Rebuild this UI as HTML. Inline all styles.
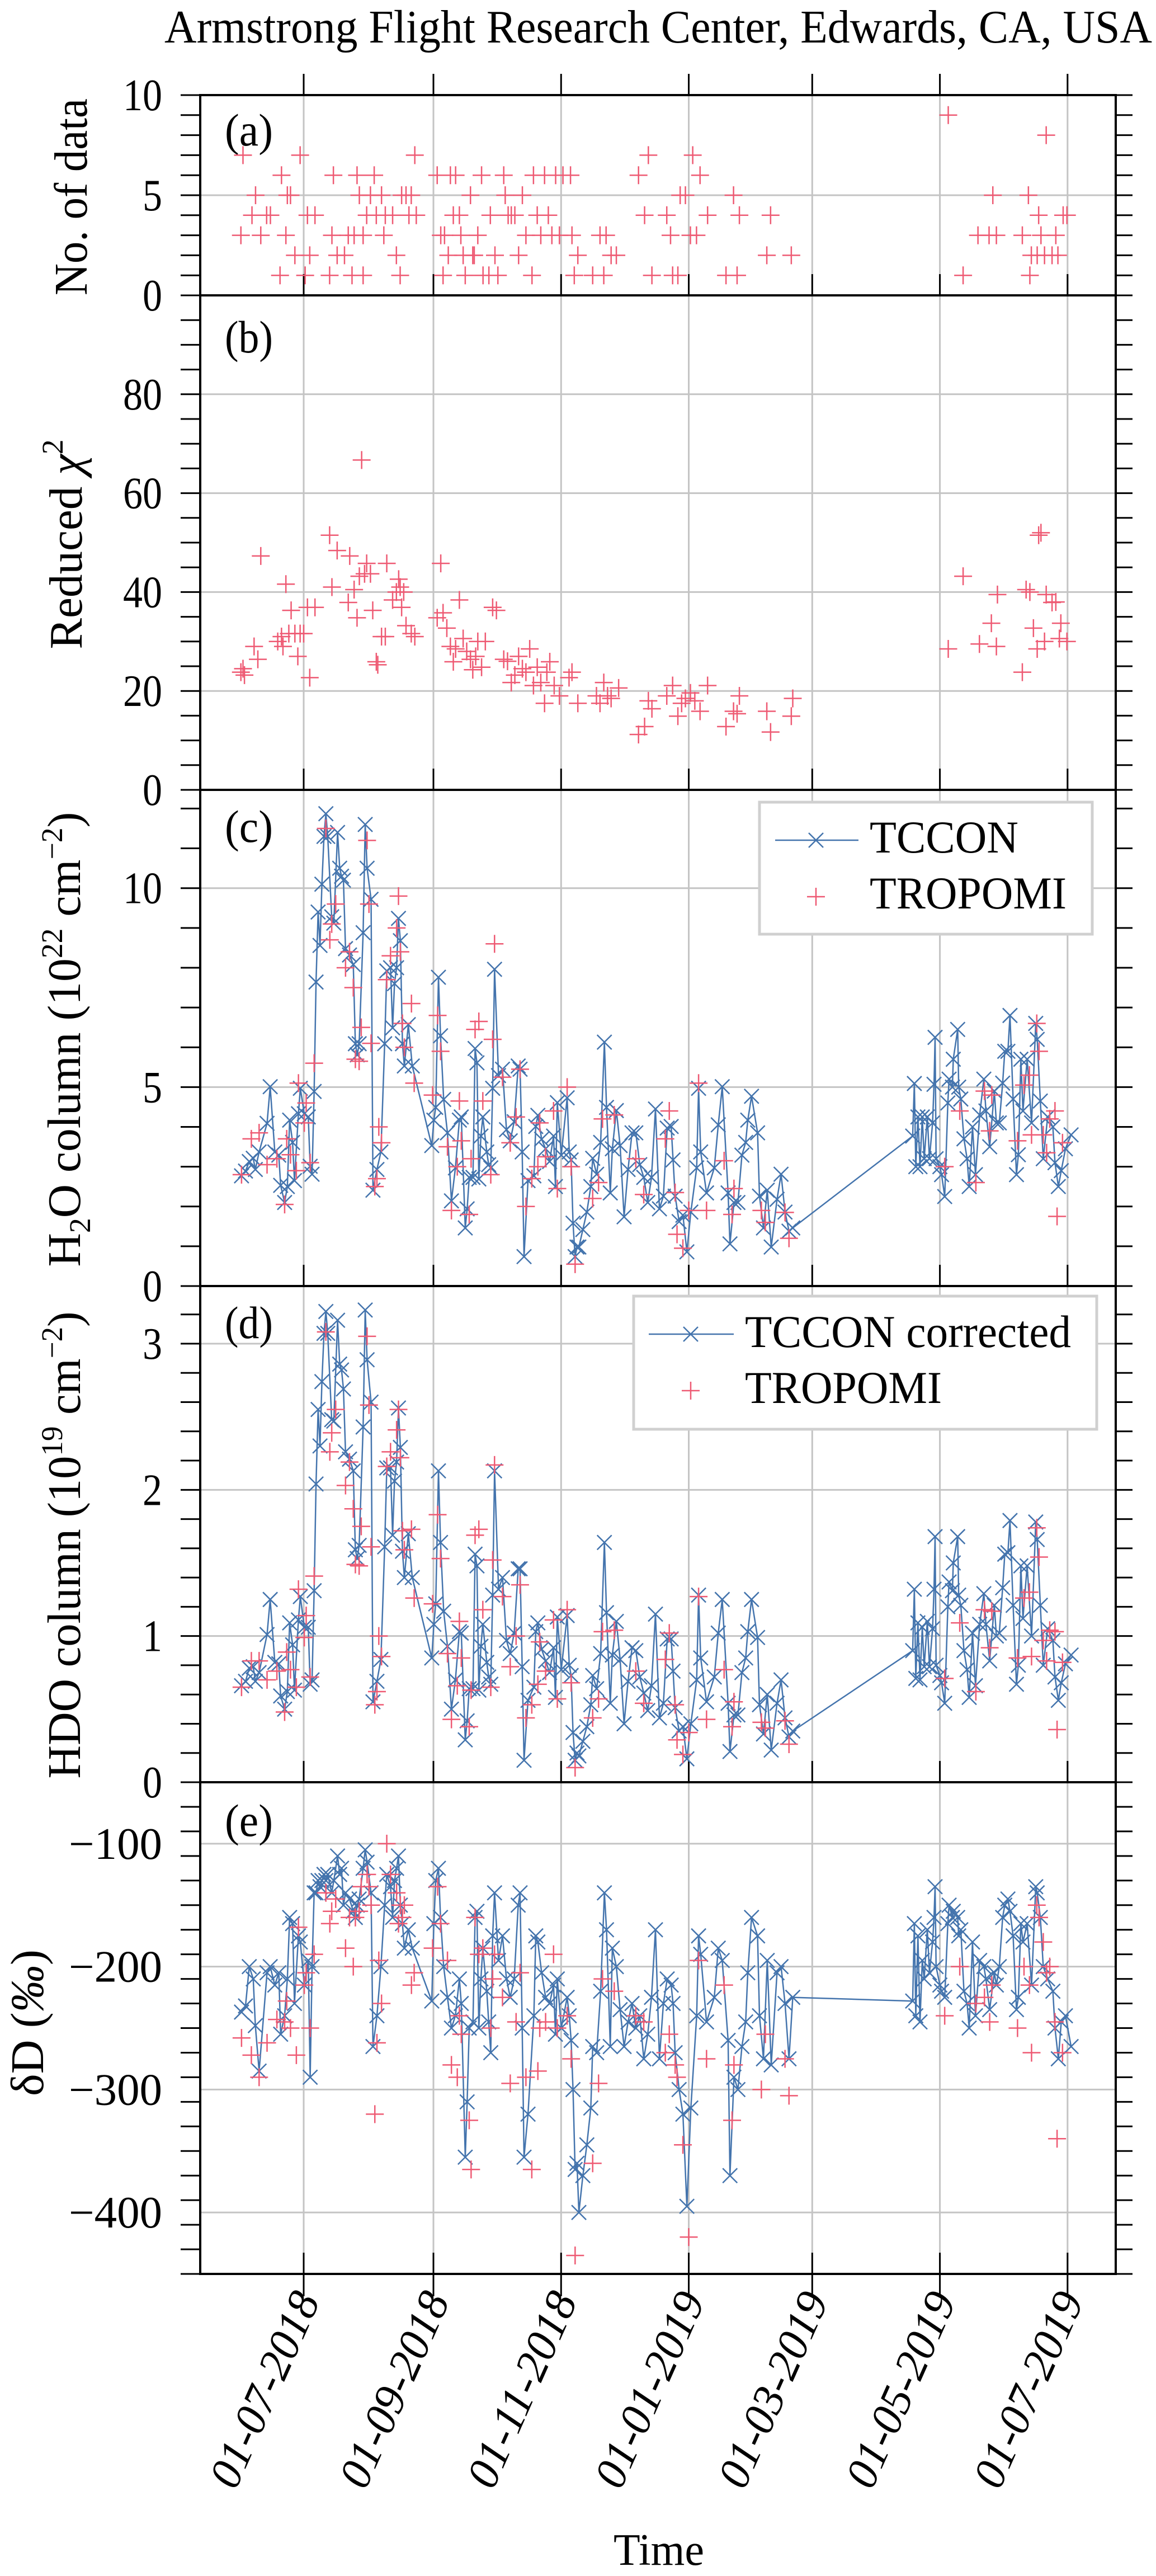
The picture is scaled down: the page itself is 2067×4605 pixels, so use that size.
<!DOCTYPE html>
<html><head><meta charset="utf-8"><title>Armstrong Flight Research Center water vapour comparison</title>
<style>
html,body{margin:0;padding:0;background:#fff;}
svg{display:block;}
text{font-family:"Liberation Serif",serif;fill:#000;}
</style></head>
<body>
<svg id="chart" xmlns="http://www.w3.org/2000/svg" width="2067" height="4605" viewBox="0 0 2067 4605"></svg>
<script>
// ---------- DATA ----------
// days since 2018-07-01
const xTickDays = [0, 62, 123, 184, 243, 304, 365];
const xTickLabels = ["01-07-2018","01-09-2018","01-11-2018","01-01-2019","01-03-2019","01-05-2019","01-07-2019"];

const aDays = [-30,-29,-23,-24.7,-20.5,-17.7,-15.9,-11.3,-10.6,-8.5,-7.8,-6.3,-4.2,-1.7,0.7,1.8,2.9,5.4,12.4,13.5,14.2,16,19.5,21.3,23.1,24.1,25.5,26.6,28.4,28.4,30.1,31.9,33.7,34.7,37.2,38.3,39,42.5,44.3,46.1,46.8,48.9,50.3,51.4,53.1,53.8,63.8,65.5,66.6,67.3,69.1,70.1,71.5,72.6,74.4,75.1,76.2,77.2,79.7,80.8,81.5,83.2,85,85.7,88.5,89.2,91.4,92.8,95.6,96.3,97.7,99.2,100.9,102.7,104.5,106.2,109.1,109.8,111.6,113.3,115.1,116.9,118.6,120.4,122.2,123.9,127.5,128.2,129.3,131,138.1,141.6,143.4,144.5,146.9,149.4,160,162.9,164.7,166.4,173.5,175.3,176.3,178.8,179.9,182.4,184.8,185.9,187.7,189.4,193,201.8,205.4,207.1,208.2,221.3,223.1,233,308,315.1,322.2,327.5,329.3,331,343.4,346.3,347,347.7,350.5,351.2,352.3,354,354.8,357.6,359.4,360.4,362.9,364.7];
const aCounts = [3,7,5,4,3,4,4,1,6,3,5,5,2,7,1,4,2,4,1,3,6,2,2,3,1,3,6,5,1,3,4,5,6,4,5,3,4,4,2,1,5,5,4,5,7,4,6,3,1,3,2,6,4,6,4,3,2,1,5,2,2,3,6,1,1,4,2,1,6,5,4,4,4,2,5,3,1,6,4,3,6,4,3,6,3,6,6,3,1,2,1,3,1,3,2,2,6,4,7,1,4,3,1,1,5,5,3,7,3,6,4,1,5,1,4,2,4,2,9,1,3,3,5,3,3,5,1,2,2,4,3,2,8,2,3,2,4,4];

const bDays = [-30,-29,-28.3,-23.7,-21.9,-20.5,-12.4,-10.6,-9.9,-8.5,-7.1,-6,-4.2,-2.8,-1.7,0,1.8,2.9,5.4,12.4,13.5,16,21.3,22,24.1,25.5,26.6,27.7,29.1,30.1,31.9,33,34.7,35.4,37.2,39,39.7,42.5,44.3,45.4,46.1,46.8,47.8,48.9,51.4,53.1,63.8,65.5,66.6,68.4,70.1,71.5,72.6,74.4,76.2,77.9,79.7,80.8,82.2,83.2,85,86.8,90.3,92.1,95.6,97.4,99.2,100.9,102.7,104.5,106.2,108,109.8,111.6,113.3,115.1,116.2,117.6,119.7,122.2,126.8,128.2,131,139.9,141.6,143.4,145.2,146.9,150.5,160,162.9,164.7,166.4,173.5,176.3,178.8,180.6,182.4,184.8,186.9,189.4,193,201.8,205.4,207.1,208.2,221.3,223.1,233,233.7,308,315.1,322.9,328.6,331,331.5,343.4,345.2,347,348.7,350.5,351.2,352.3,354,354.8,357.6,359.4,361.1,361.8,364.7];
const bChi = [23.8,24.5,23.2,29,26.4,47.3,30,31,29,41.6,31.6,36.3,31.6,27,31.6,31.6,36.9,22.7,36.9,51.5,41,48.4,37.9,47.3,40.5,34.8,43.2,66.7,43.7,45.8,43.7,36.3,25.9,25.3,31,31,45.8,38.4,40,42.6,41,36.9,40,33.2,31.6,31,34.8,45.8,35.8,32.7,29,25.9,28.5,38.4,30.6,28,26.4,24.3,27,30,24.8,30,36.9,36.3,26.4,26,21.7,23.2,27,24.5,23.8,28.5,21.1,24.8,21.7,17.5,23.8,25.9,21.1,19,22.7,23.8,17.5,19,17.5,21.7,19,18.5,20.6,11.2,12.8,18,16.4,19,21.1,14.9,17.5,18.5,19.6,18,15.9,21.1,12.8,15.9,15.4,19,15.9,11.7,14.9,18.5,28.5,43.2,29.5,33.7,29,39.5,23.8,40.5,40,32.7,28.5,51.5,52,30,39.5,37.9,38,30.6,33.7,30];

const tcDays = [-29.7,-27.8,-26,-24.1,-23.1,-21.3,-17.5,-16,-13.8,-11.9,-11,-9.1,-7.8,-6.7,-5.3,-4.4,-2.5,-1.6,0.3,2.2,3.1,4,5,5.9,6.9,7.8,8.7,9.7,10.6,11.5,13.4,14.4,16.2,17.2,18.1,19,20,21.9,23.7,24.7,25.6,26.5,28.4,29.4,30.3,32.2,33.1,35,36.9,38.7,39.7,41.5,42.5,43.4,44.4,45.3,46.2,47.2,48.1,50,51.9,61.2,62.2,63.1,64.4,65.4,66.9,68.7,70.6,72.5,74.4,75.3,77.2,78.1,79.1,80.9,81.9,82.8,83.7,84.7,85.6,87.5,88.4,89.4,90.3,91.2,93.1,95,96.9,98.7,100.6,102.5,103.4,104.4,105.3,107.2,110,110.9,111.9,113.7,115.6,117.5,119.4,120.3,121.2,123.1,125.9,126.9,127.8,128.7,129.7,130.6,131.5,133.4,135.3,137.2,138.1,140,141.9,143.7,144.7,146.5,147.5,149.4,151.2,153.1,155,156.9,158.7,160.6,162.5,164.4,166.2,168.1,170,171.9,173.7,175.6,176.5,177.5,179.4,181.2,183.1,185,187.8,188.7,189.7,192.5,196.2,198.1,200,202.8,203.7,205.6,207.5,209.4,211.2,212.2,214,216.9,217.8,219.7,221.5,223.4,226.2,228.1,230,231.9,233.7,291,291.8,292.5,293.5,294.5,295.6,296.5,298,299,300.5,301.2,301.7,302.2,304,304.8,306.3,307.8,308.4,310,310.4,312.5,313,314,315.5,317,318,319.6,321,323,325,326,327.8,330,331,332.4,334,335,336.5,337.5,339,340.6,341.5,342.7,343.7,345.7,347.8,349.8,350.5,352,353.4,355.5,358,359,360.6,362,364,366.7];
const tcH2O = [2.77,2.89,3.13,3.21,2.93,3.37,4.09,5.01,3.37,3.29,2.53,2.1,2.5,4.17,3.61,2.65,4.33,4.97,4.33,4.25,3.01,2.81,4.89,7.64,9.4,8.56,10.1,11.3,11.87,11.3,9.28,9.12,11.4,10.5,10.3,10.2,8.48,8.32,8.08,6.09,5.81,6.09,8.88,11.6,10.5,9.72,2.41,2.93,3.37,6.09,7.92,8.0,6.49,7.6,8.0,9.24,8.68,6.09,5.53,6.57,5.53,3.53,4.17,4.49,7.76,6.29,4.69,3.85,2.14,2.97,4.17,4.25,1.46,1.94,2.73,2.73,5.97,5.61,2.69,3.77,4.25,3.37,3.05,2.97,4.97,7.96,5.29,5.45,3.93,3.65,4.13,5.53,5.45,3.37,0.74,2.65,2.77,4.01,4.29,3.69,3.45,3.13,3.77,2.5,4.61,3.29,4.73,3.37,3.17,1.58,0.74,0.98,0.98,1.42,1.86,2.5,3.21,2.81,3.61,6.13,4.49,2.34,3.45,4.41,3.53,1.74,2.93,3.85,3.85,3.05,2.73,2.1,2.73,4.45,1.94,2.26,3.97,4.01,3.17,2.26,1.62,1.78,0.86,1.86,2.97,4.97,3.37,2.34,2.97,4.05,5.01,2.34,1.06,2.1,2.1,3.29,3.61,4.17,4.77,3.85,2.26,1.46,2.41,0.98,2.18,2.81,1.86,1.38,1.46,3.77,5.09,3.0,4.25,3.0,4.25,3.2,4.25,3.2,4.1,5.07,6.25,3.2,3.0,2.8,2.25,4.6,5.2,5.0,5.7,6.45,5.0,4.7,3.7,3.2,2.5,4.0,2.8,4.3,5.2,4.4,3.5,4.9,4.1,4.1,5.1,5.9,5.9,6.8,4.7,2.8,3.3,5.7,4.4,5.7,4.1,6.6,6.2,4.65,3.2,4.25,4.0,3.1,2.5,2.9,3.45,3.8];
const tcHDO = [0.66,0.69,0.78,0.79,0.69,0.75,1.01,1.25,0.82,0.81,0.59,0.50,0.62,1.09,0.94,0.63,1.11,1.27,1.06,1.06,0.67,0.70,1.31,2.04,2.55,2.30,2.74,3.07,3.22,3.07,2.48,2.47,3.16,2.86,2.82,2.69,2.26,2.21,2.13,1.59,1.53,1.62,2.43,3.23,2.89,2.60,0.55,0.69,0.84,1.61,2.15,2.15,1.69,2.06,2.19,2.56,2.29,1.58,1.40,1.70,1.40,0.85,1.08,1.22,2.13,1.64,1.17,0.93,0.50,0.70,1.03,1.02,0.29,0.42,0.64,0.64,1.56,1.48,0.63,0.93,1.08,0.82,0.72,0.67,1.28,2.13,1.32,1.40,0.97,0.88,1.02,1.46,1.46,0.79,0.15,0.56,0.65,1.03,1.09,0.91,0.83,0.75,0.92,0.58,1.13,0.77,1.14,0.80,0.73,0.34,0.15,0.20,0.18,0.28,0.38,0.53,0.73,0.64,0.88,1.64,1.16,0.54,0.87,1.10,0.84,0.40,0.69,0.92,0.90,0.72,0.61,0.49,0.66,1.15,0.44,0.54,0.98,0.98,0.76,0.51,0.35,0.38,0.16,0.40,0.70,1.28,0.85,0.55,0.72,1.02,1.25,0.54,0.21,0.46,0.46,0.75,0.85,1.03,1.25,0.99,0.53,0.33,0.60,0.22,0.54,0.70,0.44,0.31,0.35,0.90,1.32,0.71,1.09,0.70,1.06,0.79,1.10,0.79,1.05,1.32,1.68,0.80,0.73,0.68,0.54,1.20,1.37,1.31,1.50,1.68,1.28,1.21,0.90,0.77,0.58,1.02,0.66,1.08,1.29,1.08,0.83,1.21,1.00,1.02,1.33,1.56,1.57,1.79,1.21,0.67,0.80,1.48,1.12,1.48,1.00,1.78,1.66,1.21,0.80,1.05,0.97,0.72,0.56,0.68,0.81,0.87];
const tcDD = [-237,-232,-200,-210,-248,-285,-205,-200,-215,-205,-255,-240,-210,-160,-165,-230,-175,-180,-215,-195,-290,-200,-140,-140,-130,-135,-130,-125,-130,-125,-140,-130,-110,-125,-120,-150,-140,-145,-155,-160,-150,-145,-120,-105,-115,-140,-265,-240,-200,-150,-125,-135,-160,-130,-120,-110,-150,-165,-185,-170,-185,-228,-165,-130,-120,-160,-200,-225,-250,-240,-210,-230,-355,-310,-250,-245,-160,-155,-250,-210,-185,-220,-245,-270,-175,-140,-195,-175,-210,-225,-210,-150,-140,-250,-355,-320,-240,-175,-180,-205,-225,-230,-215,-255,-210,-250,-225,-240,-260,-300,-365,-360,-400,-370,-345,-315,-265,-270,-220,-140,-170,-265,-185,-200,-235,-265,-245,-230,-250,-240,-275,-255,-225,-170,-275,-230,-210,-215,-230,-270,-300,-320,-395,-315,-240,-175,-190,-245,-225,-185,-195,-260,-370,-290,-300,-265,-245,-205,-160,-175,-240,-275,-195,-280,-205,-200,-230,-275,-225,-228,-165,-240,-175,-245,-195,-210,-170,-205,-180,-160,-135,-200,-215,-220,-225,-165,-150,-160,-155,-160,-175,-170,-220,-230,-250,-180,-240,-195,-200,-210,-235,-205,-215,-200,-160,-150,-145,-155,-175,-235,-225,-165,-180,-165,-215,-135,-140,-160,-200,-210,-220,-250,-275,-245,-240,-265];

const trDays = [-29.7,-25,-21.3,-17.5,-12.8,-9.1,-8.1,-6.3,-3.5,-2.5,0.3,1.2,3.1,5,10.6,13.4,12.5,15.3,20,21.9,23.7,24.7,26.5,27.5,30.3,31.2,32.2,34,35,35.9,37.2,39.7,41.5,44.4,45.3,46.2,47.2,48.1,51.5,52.8,61.6,64,65.4,68.7,70.6,73.4,74.4,75.3,79.1,80,81.9,83.7,85.6,89.4,90.3,91.2,95,103.4,98.7,101.5,106.2,109,111.9,112.8,115.6,119.4,121.2,125.9,127.8,129.7,138.1,140.9,142.8,148.4,158.7,162.5,172.8,174.7,177.5,178.4,181.2,184,188.7,192.5,200.9,204.7,205.6,218.7,220.6,230,231.9,306.3,313.5,321.2,325.3,328.8,327.8,341.1,344.2,346.8,347.8,350.3,351.4,353.4,355,356.5,359,362.6,360];
const trH2O = [2.8,3.7,3.85,3.05,3.2,2.05,3.7,3.3,2.9,5.1,4.1,4.6,3.1,5.6,11.5,9.1,8.7,9.6,8.0,8.4,7.5,5.7,5.65,6.5,11.2,9.6,6.1,2.5,2.7,4.0,3.6,7.7,8.3,9.0,9.8,8.4,6.6,6.0,7.1,5.1,4.8,6.8,5.9,3.5,1.9,3.0,4.65,3.65,1.8,3.2,6.45,6.65,4.65,2.8,6.2,8.6,5.25,5.45,3.6,4.25,2.0,2.7,3.0,4.1,3.25,4.4,2.45,5.0,3.0,0.55,2.2,2.6,4.2,4.3,3.2,2.3,3.7,4.4,2.35,1.3,0.95,1.9,5.1,1.9,3.15,1.8,2.45,1.9,1.6,1.85,1.2,3.0,4.4,2.6,4.9,4.8,3.9,3.65,5.05,5.3,3.8,6.6,5.9,3.8,3.35,4.2,4.4,3.6,1.75];
const trHDO = [0.65,0.83,0.83,0.70,0.76,0.48,0.89,0.77,0.65,1.32,0.99,1.14,0.72,1.41,3.08,2.39,2.26,2.55,2.03,2.19,1.87,1.49,1.48,1.75,3.05,2.58,1.61,0.53,0.62,1.00,0.86,2.16,2.26,2.41,2.55,2.22,1.72,1.59,1.73,1.26,1.22,1.83,1.53,0.88,0.43,0.66,1.10,0.85,0.38,0.63,1.69,1.73,1.18,0.65,1.52,2.17,1.27,1.35,0.79,1.00,0.44,0.53,0.67,0.96,0.76,1.11,0.57,1.18,0.68,0.10,0.44,0.57,1.03,1.04,0.76,0.54,0.84,1.02,0.53,0.29,0.19,0.34,1.27,0.43,0.77,0.38,0.55,0.41,0.37,0.42,0.26,0.71,1.09,0.62,1.18,1.17,0.92,0.85,1.26,1.30,0.86,1.74,1.54,0.97,0.83,1.04,1.03,0.82,0.36];
const trDD = [-258,-272,-290,-262,-243,-245,-228,-250,-272,-168,-215,-205,-250,-190,-140,-155,-165,-145,-185,-160,-200,-160,-155,-135,-125,-135,-150,-320,-262,-195,-230,-100,-125,-140,-165,-150,-160,-150,-215,-205,-185,-135,-165,-195,-280,-290,-240,-255,-325,-365,-160,-190,-185,-250,-210,-190,-225,-205,-295,-245,-290,-365,-285,-250,-245,-190,-250,-240,-275,-435,-360,-295,-210,-220,-240,-245,-270,-255,-280,-290,-345,-420,-195,-275,-215,-325,-280,-300,-255,-275,-305,-240,-200,-230,-225,-215,-245,-250,-200,-215,-270,-150,-160,-180,-205,-200,-245,-270,-340];

// ---------- LAYOUT ----------
const NS = "http://www.w3.org/2000/svg";
const svg = document.getElementById("chart");
const X0 = 358, X1 = 1995;
const BLUE = "#4474ad", RED = "#ee5a73", GRID = "#c4c4c4";
function xs(d){ return 543 + 3.742 * d; }
function mk(tag, attrs, parent){
  const el = document.createElementNS(NS, tag);
  for (const k in attrs) el.setAttribute(k, attrs[k]);
  (parent || svg).appendChild(el);
  return el;
}
function txt(str, attrs, parent){ const t = mk("text", attrs, parent); t.textContent = str; return t; }

const panels = [
  {id:"a", top:170, bot:528, min:0, max:10, majors:[0,5,10], minorStep:1, labels:["0","5","10"], tag:"(a)", tagY:260},
  {id:"b", top:528, bot:1412, min:0, max:100, majors:[0,20,40,60,80], minorStep:5, labels:["0","20","40","60","80"], tag:"(b)", tagY:630},
  {id:"c", top:1412, bot:2299, min:0, max:12.47, majors:[0,5,10], minorStep:1, labels:["0","5","10"], tag:"(c)", tagY:1505},
  {id:"d", top:2299, bot:3186, min:0, max:3.394, majors:[0,1,2,3], minorStep:0.2, labels:["0","1","2","3"], tag:"(d)", tagY:2392},
  {id:"e", top:3186, bot:4065, min:-450, max:-50, majors:[-400,-300,-200,-100], minorStep:20, labels:["\u2212400","\u2212300","\u2212200","\u2212100"], tag:"(e)", tagY:3282}
];
panels.forEach(p => { p.ys = v => p.bot - (v - p.min) / (p.max - p.min) * (p.bot - p.top); });

// title
const title = txt("Armstrong Flight Research Center, Edwards, CA, USA", {x:294, y:76, "font-size":84, textLength:1766, lengthAdjust:"spacingAndGlyphs"});



panels.forEach(p => {
  const g = mk("g", {});
  
  
  const grid = mk("g", {stroke:GRID, "stroke-width":3}, g);
  
  
  xTickDays.forEach(d => mk("line", {x1:xs(d), x2:xs(d), y1:p.top, y2:p.bot}, grid));
  p.majors.forEach(v => { if (v !== p.min) mk("line", {x1:X0, x2:X1, y1:p.ys(v), y2:p.ys(v)}, grid); });
  const ticks = mk("g", {stroke:"#000", "stroke-width":3}, g);
  
  
  const n = Math.round((p.max - p.min) / p.minorStep);
  for (let i = 0; i <= n + 1; i++) {
    const v = p.min + i * p.minorStep;
    if (v > p.max + 1e-6) break;
    const y = p.ys(v);
    mk("line", {x1:X0 - 35, x2:X0, y1:y, y2:y}, ticks);
    mk("line", {x1:X1, x2:X1 + 30, y1:y, y2:y}, ticks);
  }
  xTickDays.forEach(d => mk("line", {x1:xs(d), x2:xs(d), y1:p.bot - 38, y2:p.bot}, ticks));
  p.majors.forEach((v, i) => {
    const lab = p.labels[i];
    const L = lab.replace("\u2212", "").length * 35 + (lab.indexOf("\u2212") >= 0 ? 62 : 0);
    const t = txt(lab, {x:290 - L, y:p.ys(v) + 27, "font-size":80, textLength:L, lengthAdjust:"spacingAndGlyphs"}, g);
    
    
  });
  const fr = mk("rect", {x:X0, y:p.top, width:X1 - X0, height:p.bot - p.top, fill:"none", stroke:"#000", "stroke-width":4}, g);
  
  
  const tg = txt(p.tag, {x:402, y:p.tagY, "font-size":82, textLength:86, lengthAdjust:"spacingAndGlyphs"}, g);
  
  
  p.g = g;
});

const outerTicks = mk("g", {stroke:"#000", "stroke-width":3});


xTickDays.forEach(d => {
  mk("line", {x1:xs(d), x2:xs(d), y1:170 - 38, y2:170}, outerTicks);
  mk("line", {x1:xs(d), x2:xs(d), y1:4065, y2:4065 + 40}, outerTicks);
});

xTickDays.forEach((d, i) => {
  const x = xs(d) + 30, y = 4112;
  const t = txt(xTickLabels[i], {x:x - 373, y:y, "font-size":80, "font-style":"italic", textLength:373, lengthAdjust:"spacingAndGlyphs", transform:"rotate(-66 " + x + " " + y + ")"});
  
  
});
const xt = txt("Time", {x:1097, y:4585, "font-size":80, textLength:162, lengthAdjust:"spacingAndGlyphs"});



function ytitle(parts, bx, cy, len, name){
  const t = mk("text", {x:cy - len / 2, y:0, "font-size":84, textLength:len, lengthAdjust:"spacingAndGlyphs", transform:"translate(" + bx + " 0) rotate(-90 0 0) translate(" + (-2 * cy) + " 0) scale(1 1)"});
  // position: rotated so text runs bottom-to-top; x attr along axis (negated)
  t.setAttribute("transform", "translate(" + bx + " " + (cy + len / 2) + ") rotate(-90)");
  t.setAttribute("x", 0);
  
  
  parts.forEach(pp => {
    const s = mk("tspan", pp.attrs || {}, t);
    s.textContent = pp.s;
  });
}
ytitle([{s:"No. of data"}], 155, 352, 352, "y-axis-title-a");
ytitle([{s:"Reduced "},{s:"\u03c7", attrs:{"font-style":"italic"}},{s:"2", attrs:{"font-size":54, dy:-34}}], 146, 973, 375, "y-axis-title-b");
ytitle([{s:"H"},{s:"2", attrs:{"font-size":54, dy:18}},{s:"O column (10", attrs:{dy:-18}},{s:"22", attrs:{"font-size":54, dy:-32}},{s:" cm", attrs:{dy:32}},{s:"\u22122", attrs:{"font-size":54, dy:-32}},{s:")", attrs:{dy:32}}], 143, 1858, 813, "y-axis-title-c");
ytitle([{s:"HDO column (10"},{s:"19", attrs:{"font-size":54, dy:-32}},{s:" cm", attrs:{dy:32}},{s:"\u22122", attrs:{"font-size":54, dy:-32}},{s:")", attrs:{dy:32}}], 143, 2762, 835, "y-axis-title-d");
ytitle([{s:"\u03b4"},{s:"D ("},{s:"\u2030", attrs:{"font-style":"italic"}},{s:")"}], 77, 3616, 262, "y-axis-title-e");

function plus(g, x, y, s){
  mk("path", {d:"M" + (x - s) + " " + y + "H" + (x + s) + "M" + x + " " + (y - s) + "V" + (y + s)}, g);
}
function cross(g, x, y, s){
  mk("path", {d:"M" + (x - s) + " " + (y - s) + "L" + (x + s) + " " + (y + s) + "M" + (x - s) + " " + (y + s) + "L" + (x + s) + " " + (y - s)}, g);
}
function tropSeries(p, days, vals, name){
  const g = mk("g", {stroke:RED, "stroke-width":2.5, fill:"none"}, p.g);
  
  
  days.forEach((d, i) => plus(g, xs(d), p.ys(vals[i]), 16));
}
function tcconSeries(p, days, vals, name){
  const pts = days.map((d, i) => xs(d).toFixed(1) + "," + p.ys(vals[i]).toFixed(1)).join(" ");
  const line = mk("polyline", {points:pts, fill:"none", stroke:BLUE, "stroke-width":2.5, "stroke-linejoin":"round"}, p.g);
  
  
  const g = mk("g", {stroke:BLUE, "stroke-width":2.5, fill:"none"}, p.g);
  
  
  days.forEach((d, i) => cross(g, xs(d), p.ys(vals[i]), 13));
}
tropSeries(panels[0], aDays, aCounts, "tropomi-count-points");
tropSeries(panels[1], bDays, bChi, "reduced-chi2-points");
tcconSeries(panels[2], tcDays, tcH2O, "tccon-h2o");
tropSeries(panels[2], trDays, trH2O, "tropomi-h2o-points");
tcconSeries(panels[3], tcDays, tcHDO, "tccon-hdo");
tropSeries(panels[3], trDays, trHDO, "tropomi-hdo-points");
tcconSeries(panels[4], tcDays, tcDD, "tccon-dd");
tropSeries(panels[4], trDays, trDD, "tropomi-dd-points");

function legend(x, y, w, h, label1, len1, row1, row2, name){
  const g = mk("g", {});
  
  
  mk("rect", {x:x, y:y, width:w, height:h, fill:"#fff", stroke:"#d0d0d0", "stroke-width":5}, g);
  const e1 = mk("g", {}, g);
  
  
  mk("line", {x1:row1.lx0, x2:row1.lx1, y1:row1.my, y2:row1.my, stroke:BLUE, "stroke-width":2.5}, e1);
  const cg = mk("g", {stroke:BLUE, "stroke-width":2.5}, e1);
  cross(cg, row1.mx, row1.my, 13);
  txt(label1, {x:row1.tx, y:row1.ty, "font-size":82, textLength:len1, lengthAdjust:"spacingAndGlyphs"}, e1);
  const e2 = mk("g", {}, g);
  
  
  const pg = mk("g", {stroke:RED, "stroke-width":2.5}, e2);
  plus(pg, row2.mx, row2.my, 16);
  txt("TROPOMI", {x:row2.tx, y:row2.ty, "font-size":82, textLength:352, lengthAdjust:"spacingAndGlyphs"}, e2);
}
legend(1358, 1434, 595, 236, "TCCON", 266, {lx0:1386, lx1:1535, mx:1459, my:1502, tx:1555, ty:1524}, {mx:1459, my:1603, tx:1555, ty:1624}, "legend-c");
legend(1133, 2317, 828, 238, "TCCON corrected", 583, {lx0:1160, lx1:1312, mx:1235, my:2385, tx:1332, ty:2408}, {mx:1235, my:2486, tx:1332, ty:2508}, "legend-d");
</script>
</body></html>
